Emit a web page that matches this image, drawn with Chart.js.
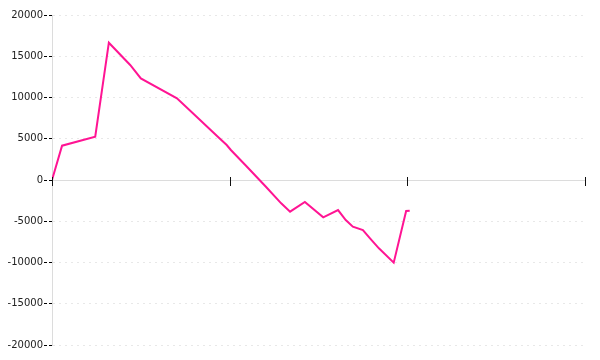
<!DOCTYPE html>
<html>
<head>
<meta charset="utf-8">
<script src="https://cdn.jsdelivr.net/npm/chart.js@4"></script>
<style>
  html, body { margin: 0; padding: 0; background: #fff; }
  #wrap { width: 600px; height: 360px; }
</style>
</head>
<body>
<div id="wrap"><canvas id="chart"></canvas></div>
<script>
// days along x, running balance along y
const days = [0, 1.7, 7.3, 9.6, 13.2, 15, 21.1, 25, 28, 29.5, 30.2, 32.8, 36, 38.7, 40.2, 42.7, 45.8, 48.3, 49.6, 50.8, 52.5, 53.7, 55.2, 57.7, 59.8, 60.4];
const balance = [0, 4160, 5250, 16640, 13940, 12320, 9900, 7270, 5250, 4240, 3640, 1700, -730, -2830, -3840, -2670, -4520, -3640, -4850, -5660, -6060, -7070, -8280, -10020, -3760, -3720];
const xTicks = [0, 30, 60, 90];
const yTicks = [-20000, -15000, -10000, -5000, 0, 5000, 10000, 15000, 20000];

const points = days.map((d, i) => ({ x: d, y: balance[i] }));

// short marks crossing the x axis line
const crossTicks = {
  id: 'crossTicks',
  afterDraw(chart) {
    const x = chart.scales.x, y = chart.scales.y;
    const y0 = y.getPixelForValue(0);
    const ctx = chart.ctx;
    ctx.save();
    ctx.strokeStyle = '#111';
    ctx.lineWidth = 1;
    xTicks.forEach(t => {
      const px = Math.round(x.getPixelForValue(t)) + 0.5;
      ctx.beginPath();
      ctx.moveTo(px, y0 - 3);
      ctx.lineTo(px, y0 + 6);
      ctx.stroke();
    });
    ctx.restore();
  }
};

new Chart(document.getElementById('chart'), {
  type: 'line',
  data: {
    datasets: [{
      data: points,
      borderColor: '#ff1493',
      borderWidth: 2,
      pointRadius: 0,
      tension: 0,
      fill: false
    }]
  },
  options: {
    responsive: true,
    maintainAspectRatio: false,
    animation: false,
    layout: { padding: { top: 15, bottom: 15, right: 15, left: 0 } },
    plugins: { legend: { display: false }, tooltip: { enabled: false } },
    scales: {
      x: {
        type: 'linear',
        position: { y: 0 },
        min: 0,
        max: 90,
        afterBuildTicks: s => { s.ticks = xTicks.map(v => ({ value: v })); },
        ticks: { display: false },
        grid: { display: false },
        border: { display: true, color: '#dcdcdc', width: 1 }
      },
      y: {
        min: -20000,
        max: 20000,
        afterBuildTicks: s => { s.ticks = yTicks.map(v => ({ value: v })); },
        afterFit: s => { s.width = 52; },
        ticks: {
          padding: 1,
          color: '#222',
          font: { family: 'DejaVu Sans', size: 10 },
          callback: v => String(v)
        },
        grid: {
          color: '#e8e8e8',
          tickColor: '#000',
          tickLength: 8,
          tickBorderDash: [3, 2]
        },
        border: { display: true, color: '#dcdcdc', width: 1, dash: [2, 4] }
      }
    }
  },
  plugins: [crossTicks]
});
</script>
</body>
</html>
